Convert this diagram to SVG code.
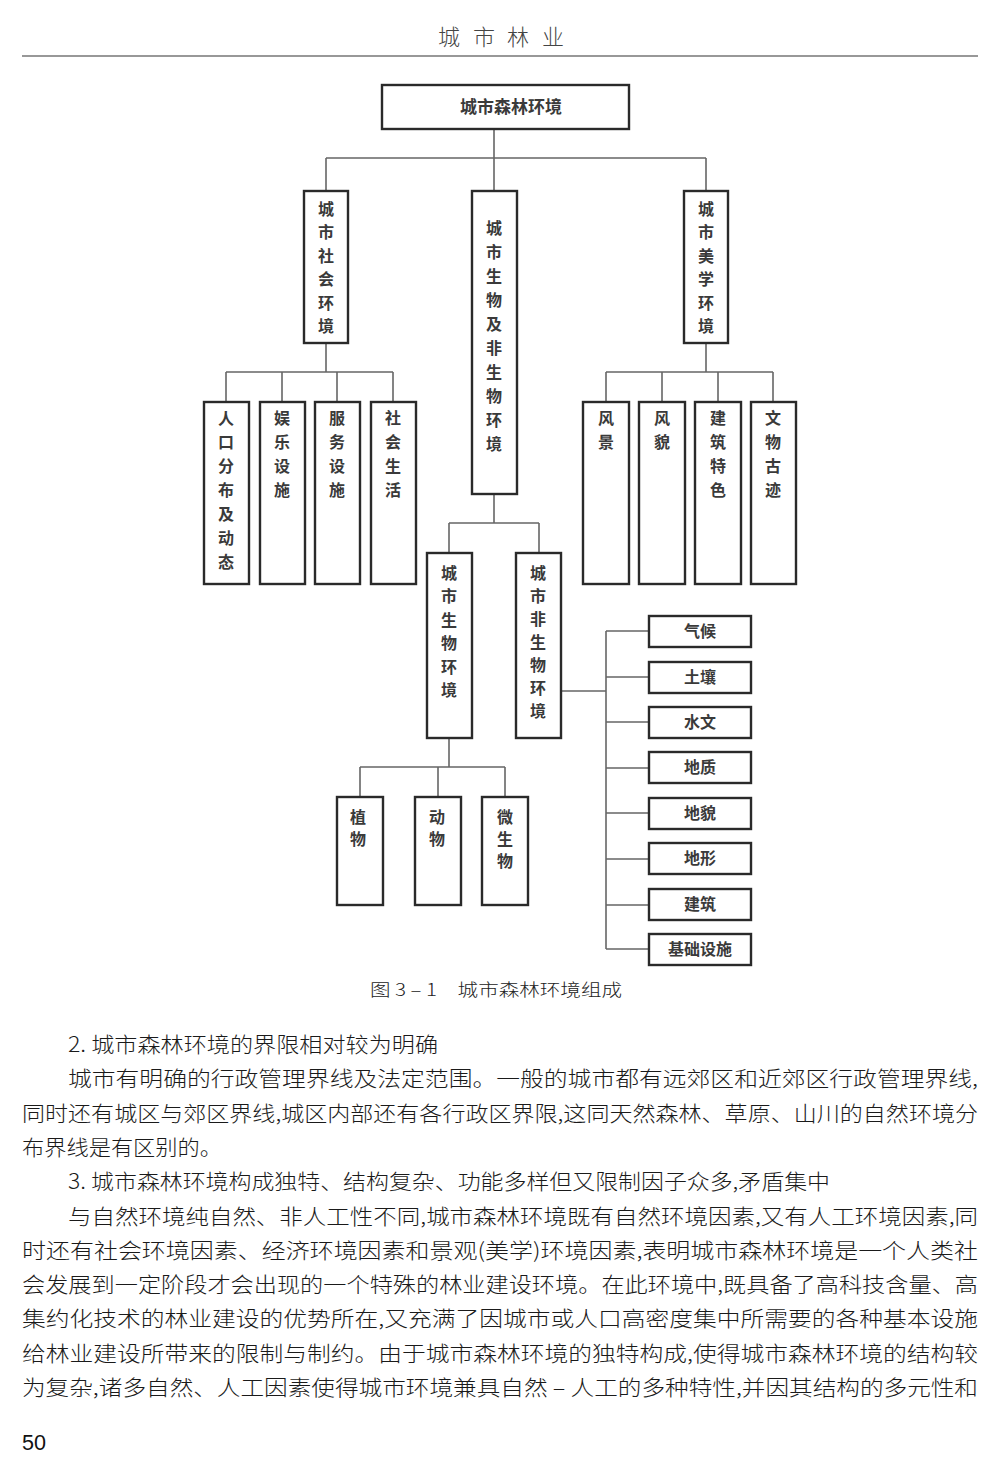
<svg xmlns="http://www.w3.org/2000/svg" width="1001" height="1474" viewBox="0 0 1001 1474">
<style>
.box{fill:#fff;stroke:#2a2a2a;stroke-width:2.4}
.lbl{font-family:"Noto Sans CJK SC","Noto Sans CJK TC",sans-serif;font-size:16px;font-weight:bold;fill:#3a3a3a;text-anchor:middle}
.con{fill:none;stroke:#666;stroke-width:1.6}
.body{font-family:"Noto Sans CJK SC","Noto Sans CJK TC",sans-serif;font-size:21px;font-weight:300;fill:#1a1a1a}
</style>
<rect width="1001" height="1474" fill="#fff"/>
<g id="header">
<text font-family="Noto Sans CJK SC,sans-serif" font-size="22" font-weight="300" fill="#444" text-anchor="middle" y="45"><tspan x="449">城</tspan><tspan x="484">市</tspan><tspan x="518">林</tspan><tspan x="553">业</tspan></text>
<line x1="22" y1="56" x2="978" y2="56" stroke="#333" stroke-width="1.2"/>
</g>
<g id="connectors" class="con">
<path class="con" d="M494 129V158M326 158H706M326 158V191M494 158V191M706 158V191"/>
<path class="con" d="M326 343V372M226 372H393M226 372V402M282 372V402M337 372V402M393 372V402"/>
<path class="con" d="M706 343V372M606 372H773M606 372V402M662 372V402M718 372V402M773 372V402"/>
<path class="con" d="M494 494V523M449 523H539M449 523V553M539 523V553"/>
<path class="con" d="M449 738V767M360 767H505M360 767V797M438 767V797M505 767V797"/>
<path class="con" d="M562 691H606M606 631V949M606 631H649M606 677H649M606 722H649M606 768H649M606 813H649M606 859H649M606 905H649M606 949H649"/>
</g>
<g id="n-root"><rect class="box" x="382" y="85" width="247" height="44"/><text class="lbl" x="511" y="113" style="font-size:17px">城市森林环境</text></g>
<g id="n-social"><rect class="box" x="304" y="191" width="44" height="152"/><text class="lbl"><tspan x="326" y="215">城</tspan><tspan x="326" y="238">市</tspan><tspan x="326" y="262">社</tspan><tspan x="326" y="285">会</tspan><tspan x="326" y="309">环</tspan><tspan x="326" y="332">境</tspan></text></g>
<g id="n-bio-abio"><rect class="box" x="472" y="191" width="45" height="303"/><text class="lbl"><tspan x="494" y="234">城</tspan><tspan x="494" y="258">市</tspan><tspan x="494" y="282">生</tspan><tspan x="494" y="306">物</tspan><tspan x="494" y="330">及</tspan><tspan x="494" y="354">非</tspan><tspan x="494" y="378">生</tspan><tspan x="494" y="402">物</tspan><tspan x="494" y="426">环</tspan><tspan x="494" y="450">境</tspan></text></g>
<g id="n-aesthetic"><rect class="box" x="684" y="191" width="44" height="152"/><text class="lbl"><tspan x="706" y="215">城</tspan><tspan x="706" y="238">市</tspan><tspan x="706" y="262">美</tspan><tspan x="706" y="285">学</tspan><tspan x="706" y="309">环</tspan><tspan x="706" y="332">境</tspan></text></g>
<g id="n-population"><rect class="box" x="204" y="402" width="45" height="182"/><text class="lbl"><tspan x="226" y="424">人</tspan><tspan x="226" y="448">口</tspan><tspan x="226" y="472">分</tspan><tspan x="226" y="496">布</tspan><tspan x="226" y="520">及</tspan><tspan x="226" y="544">动</tspan><tspan x="226" y="568">态</tspan></text></g>
<g id="n-entertain"><rect class="box" x="260" y="402" width="45" height="182"/><text class="lbl"><tspan x="282" y="424">娱</tspan><tspan x="282" y="448">乐</tspan><tspan x="282" y="472">设</tspan><tspan x="282" y="496">施</tspan></text></g>
<g id="n-service"><rect class="box" x="315" y="402" width="45" height="182"/><text class="lbl"><tspan x="337" y="424">服</tspan><tspan x="337" y="448">务</tspan><tspan x="337" y="472">设</tspan><tspan x="337" y="496">施</tspan></text></g>
<g id="n-sociallife"><rect class="box" x="371" y="402" width="45" height="182"/><text class="lbl"><tspan x="393" y="424">社</tspan><tspan x="393" y="448">会</tspan><tspan x="393" y="472">生</tspan><tspan x="393" y="496">活</tspan></text></g>
<g id="n-scenery"><rect class="box" x="583" y="402" width="46" height="182"/><text class="lbl"><tspan x="606" y="424">风</tspan><tspan x="606" y="448">景</tspan></text></g>
<g id="n-style"><rect class="box" x="639" y="402" width="46" height="182"/><text class="lbl"><tspan x="662" y="424">风</tspan><tspan x="662" y="448">貌</tspan></text></g>
<g id="n-architecture"><rect class="box" x="695" y="402" width="46" height="182"/><text class="lbl"><tspan x="718" y="424">建</tspan><tspan x="718" y="448">筑</tspan><tspan x="718" y="472">特</tspan><tspan x="718" y="496">色</tspan></text></g>
<g id="n-relics"><rect class="box" x="751" y="402" width="45" height="182"/><text class="lbl"><tspan x="773" y="424">文</tspan><tspan x="773" y="448">物</tspan><tspan x="773" y="472">古</tspan><tspan x="773" y="496">迹</tspan></text></g>
<g id="n-bio"><rect class="box" x="427" y="553" width="45" height="185"/><text class="lbl"><tspan x="449" y="579">城</tspan><tspan x="449" y="602">市</tspan><tspan x="449" y="626">生</tspan><tspan x="449" y="649">物</tspan><tspan x="449" y="673">环</tspan><tspan x="449" y="696">境</tspan></text></g>
<g id="n-abio"><rect class="box" x="516" y="553" width="45" height="185"/><text class="lbl"><tspan x="538" y="579">城</tspan><tspan x="538" y="602">市</tspan><tspan x="538" y="625">非</tspan><tspan x="538" y="648">生</tspan><tspan x="538" y="671">物</tspan><tspan x="538" y="694">环</tspan><tspan x="538" y="717">境</tspan></text></g>
<g id="n-plant"><rect class="box" x="337" y="797" width="46" height="108"/><text class="lbl"><tspan x="358" y="823">植</tspan><tspan x="358" y="845">物</tspan></text></g>
<g id="n-animal"><rect class="box" x="415" y="797" width="46" height="108"/><text class="lbl"><tspan x="437" y="823">动</tspan><tspan x="437" y="845">物</tspan></text></g>
<g id="n-microbe"><rect class="box" x="482" y="797" width="46" height="108"/><text class="lbl"><tspan x="505" y="823">微</tspan><tspan x="505" y="845">生</tspan><tspan x="505" y="867">物</tspan></text></g>
<g id="n-climate"><rect class="box" x="649" y="616" width="102" height="31"/><text class="lbl" x="700" y="637">气候</text></g>
<g id="n-soil"><rect class="box" x="649" y="662" width="102" height="31"/><text class="lbl" x="700" y="683">土壤</text></g>
<g id="n-hydro"><rect class="box" x="649" y="707" width="102" height="31"/><text class="lbl" x="700" y="728">水文</text></g>
<g id="n-geology"><rect class="box" x="649" y="752" width="102" height="31"/><text class="lbl" x="700" y="773">地质</text></g>
<g id="n-landform"><rect class="box" x="649" y="798" width="102" height="31"/><text class="lbl" x="700" y="819">地貌</text></g>
<g id="n-terrain"><rect class="box" x="649" y="843" width="102" height="31"/><text class="lbl" x="700" y="864">地形</text></g>
<g id="n-building"><rect class="box" x="649" y="889" width="102" height="31"/><text class="lbl" x="700" y="910">建筑</text></g>
<g id="n-infra"><rect class="box" x="649" y="934" width="102" height="31"/><text class="lbl" x="700" y="955">基础设施</text></g>
<g id="caption"><text font-family="Noto Sans CJK SC,sans-serif" font-size="17" font-weight="300" fill="#222" x="370" y="996" textLength="252" lengthAdjust="spacingAndGlyphs">图 3 – 1　城市森林环境组成</text></g>
<g id="bodytext" class="body">
<text class="body" x="68" y="1052" textLength="370" lengthAdjust="spacingAndGlyphs">2. 城市森林环境的界限相对较为明确</text>
<text class="body" x="68" y="1086" textLength="910" lengthAdjust="spacingAndGlyphs">城市有明确的行政管理界线及法定范围。一般的城市都有远郊区和近郊区行政管理界线,</text>
<text class="body" x="22" y="1121" textLength="956" lengthAdjust="spacingAndGlyphs">同时还有城区与郊区界线,城区内部还有各行政区界限,这同天然森林、草原、山川的自然环境分</text>
<text class="body" x="22" y="1155" textLength="200" lengthAdjust="spacingAndGlyphs">布界线是有区别的。</text>
<text class="body" x="68" y="1189" textLength="762" lengthAdjust="spacingAndGlyphs">3. 城市森林环境构成独特、结构复杂、功能多样但又限制因子众多,矛盾集中</text>
<text class="body" x="68" y="1224" textLength="910" lengthAdjust="spacingAndGlyphs">与自然环境纯自然、非人工性不同,城市森林环境既有自然环境因素,又有人工环境因素,同</text>
<text class="body" x="22" y="1258" textLength="956" lengthAdjust="spacingAndGlyphs">时还有社会环境因素、经济环境因素和景观(美学)环境因素,表明城市森林环境是一个人类社</text>
<text class="body" x="22" y="1292" textLength="956" lengthAdjust="spacingAndGlyphs">会发展到一定阶段才会出现的一个特殊的林业建设环境。在此环境中,既具备了高科技含量、高</text>
<text class="body" x="22" y="1326" textLength="956" lengthAdjust="spacingAndGlyphs">集约化技术的林业建设的优势所在,又充满了因城市或人口高密度集中所需要的各种基本设施</text>
<text class="body" x="22" y="1361" textLength="956" lengthAdjust="spacingAndGlyphs">给林业建设所带来的限制与制约。由于城市森林环境的独特构成,使得城市森林环境的结构较</text>
<text class="body" x="22" y="1395" textLength="956" lengthAdjust="spacingAndGlyphs">为复杂,诸多自然、人工因素使得城市环境兼具自然 – 人工的多种特性,并因其结构的多元性和</text>
</g>
<g id="pagenum"><text font-family="Liberation Sans,Arial,sans-serif" font-size="22" fill="#111" x="22" y="1450" textLength="24" lengthAdjust="spacingAndGlyphs">50</text></g>
</svg>
